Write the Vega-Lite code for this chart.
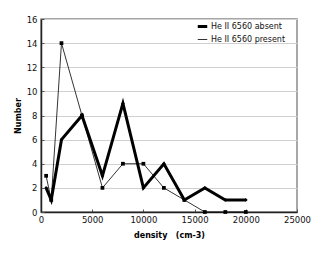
{
  "$schema": "https://vega.github.io/schema/vega-lite/v6.json",
  "autosize": "none",
  "width": 256,
  "height": 193,
  "padding": {"left": 41, "top": 19, "right": 33, "bottom": 43},
  "background": "white",
  "config": {
    "font": "DejaVu Sans",
    "view": {"stroke": "#8a8a8a", "strokeWidth": 1.5}
  },
  "data": {
    "values": [
      {"density": 500, "count": 2, "series": "He II 6560 absent"},
      {"density": 1000, "count": 1, "series": "He II 6560 absent"},
      {"density": 2000, "count": 6, "series": "He II 6560 absent"},
      {"density": 4000, "count": 8, "series": "He II 6560 absent"},
      {"density": 6000, "count": 3, "series": "He II 6560 absent"},
      {"density": 8000, "count": 9, "series": "He II 6560 absent"},
      {"density": 10000, "count": 2, "series": "He II 6560 absent"},
      {"density": 12000, "count": 4, "series": "He II 6560 absent"},
      {"density": 14000, "count": 1, "series": "He II 6560 absent"},
      {"density": 16000, "count": 2, "series": "He II 6560 absent"},
      {"density": 18000, "count": 1, "series": "He II 6560 absent"},
      {"density": 20000, "count": 1, "series": "He II 6560 absent"},
      {"density": 500, "count": 3, "series": "He II 6560 present"},
      {"density": 1000, "count": 1, "series": "He II 6560 present"},
      {"density": 2000, "count": 14, "series": "He II 6560 present"},
      {"density": 4000, "count": 8, "series": "He II 6560 present"},
      {"density": 6000, "count": 2, "series": "He II 6560 present"},
      {"density": 8000, "count": 4, "series": "He II 6560 present"},
      {"density": 10000, "count": 4, "series": "He II 6560 present"},
      {"density": 12000, "count": 2, "series": "He II 6560 present"},
      {"density": 14000, "count": 1, "series": "He II 6560 present"},
      {"density": 16000, "count": 0, "series": "He II 6560 present"},
      {"density": 18000, "count": 0, "series": "He II 6560 present"},
      {"density": 20000, "count": 0, "series": "He II 6560 present"}
    ]
  },
  "mark": {"type": "line", "point": {"size": 14, "filled": true}},
  "encoding": {
    "x": {
      "field": "density", "type": "quantitative",
      "scale": {"domain": [0, 25000], "nice": false},
      "axis": {
        "values": [0, 5000, 10000, 15000, 20000, 25000],
        "format": "d", "grid": false,
        "title": "density\u00a0\u00a0\u00a0(cm-3)",
        "titleFontSize": 8, "titleFontWeight": "bold", "titleColor": "#000",
        "titlePadding": 8,
        "labelFontSize": 8.5, "labelColor": "#111", "labelPadding": 6,
        "tickSize": -3, "tickColor": "#555", "domainColor": "#222", "domainWidth": 1.5,
        "labelFlush": false
      }
    },
    "y": {
      "field": "count", "type": "quantitative",
      "scale": {"domain": [0, 16], "nice": false},
      "axis": {
        "values": [0, 2, 4, 6, 8, 10, 12, 14, 16],
        "title": "Number",
        "titleFontSize": 8, "titleFontWeight": "bold", "titleColor": "#000",
        "titlePadding": 4,
        "labelFontSize": 8.5, "labelColor": "#111", "labelPadding": 7,
        "grid": true, "gridColor": "#d0d0d0", "gridWidth": 1,
        "tickSize": -3, "tickColor": "#555", "domainColor": "#222", "domainWidth": 1.5,
        "labelFlush": false
      }
    },
    "color": {
      "field": "series", "type": "nominal",
      "scale": {"range": ["#000000", "#000000"]},
      "legend": {
        "title": null, "orient": "none", "legendX": 155, "legendY": 1,
        "symbolType": "stroke", "symbolStrokeColor": "#000", "symbolSize": 90,
        "labelFontSize": 8, "labelColor": "#111",
        "rowPadding": 1, "labelOffset": 2,
        "encode": {
          "symbols": {
            "update": {
              "strokeWidth": {"signal": "datum.value === 'He II 6560 absent' ? 3 : 1"},
              "shape": {"value": "stroke"}
            }
          }
        }
      }
    },
    "strokeWidth": {
      "field": "series", "type": "nominal",
      "scale": {"range": [3, 0.8]},
      "legend": null
    },
    "shape": {
      "field": "series", "type": "nominal",
      "scale": {"range": ["diamond", "square"]},
      "legend": null
    }
  }
}
